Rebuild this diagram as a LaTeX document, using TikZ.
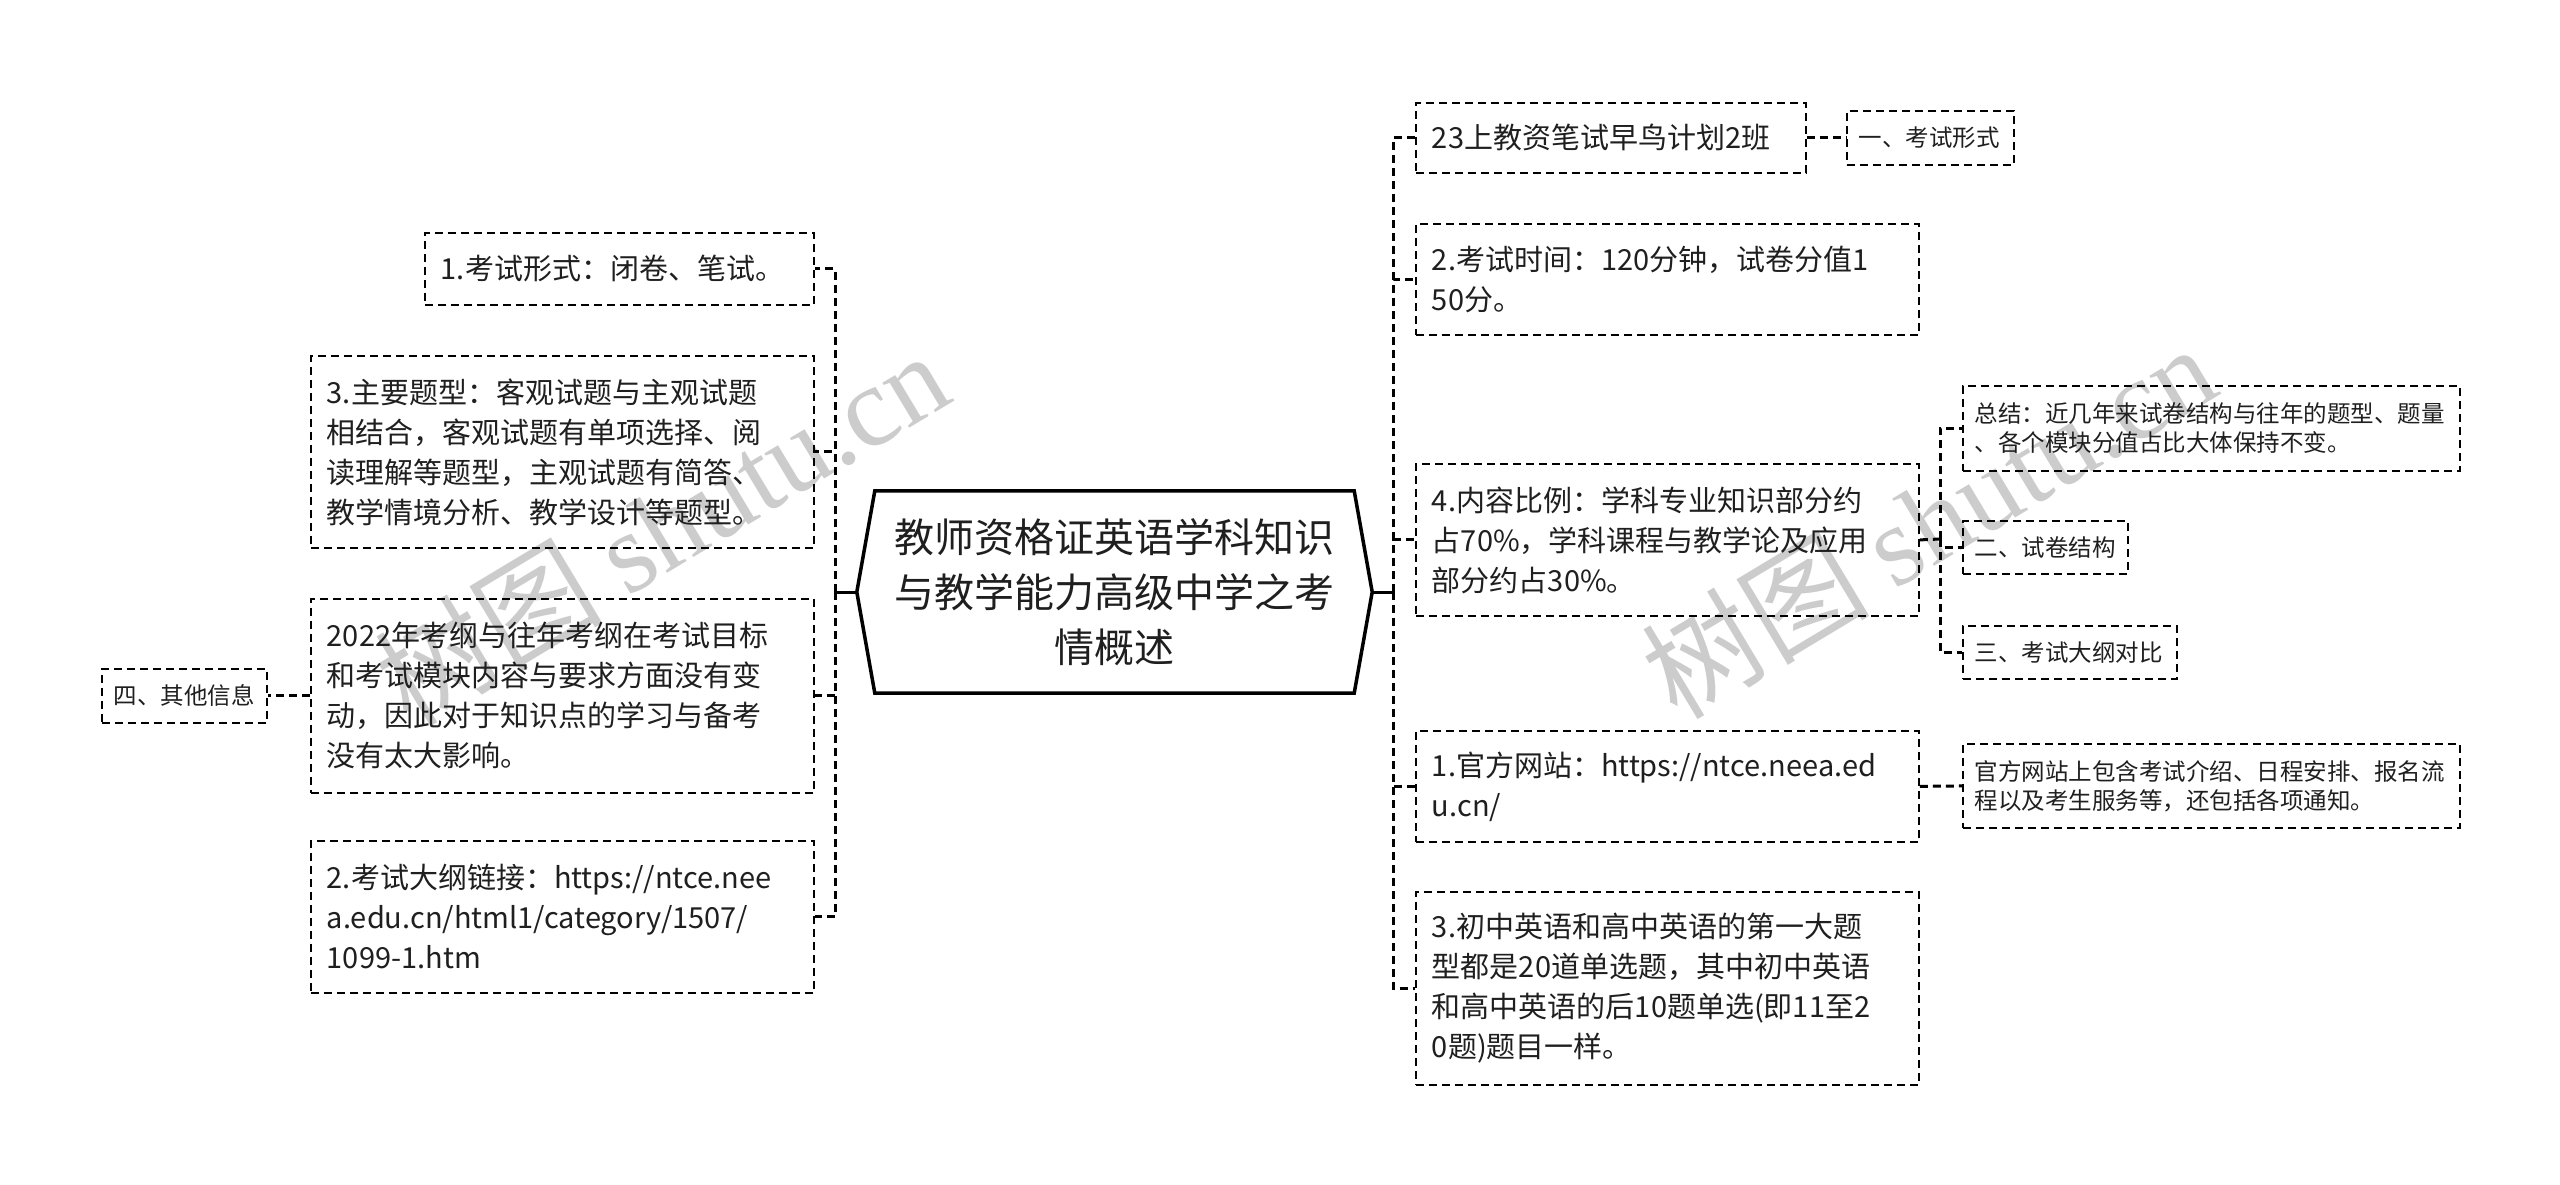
\documentclass[tikz,border=0pt]{standalone}
\usepackage{fontspec}
\setmainfont{Noto Sans CJK SC}
\newfontfamily\wmlatin{Liberation Serif}
\usetikzlibrary{calc}
\tikzset{
  boxbase/.style={draw=black, line width=1.8pt, dash pattern=on 8pt off 5pt, anchor=north west, inner ysep=0pt, align=left, text=black!88},
  bigbox/.style={boxbase, inner xsep=16pt, text width=471pt, font=\fontsize{29}{40}\selectfont},
  smallbox/.style={boxbase, inner xsep=12pt, font=\fontsize{23.5}{29}\selectfont},
  conn/.style={draw=black, line width=3pt, dash pattern=on 8pt off 5pt},
  solidconn/.style={draw=black, line width=3pt},
  wm/.style={text=black!20, font=\fontsize{114}{114}\selectfont, inner sep=0pt},
}
\begin{document}
\begin{tikzpicture}[x=1pt,y=-1pt]
\useasboundingbox (0,0) rectangle (2560,1185);
\fill[white] (0,0) rectangle (2560,1185);

% watermarks
\node[wm, rotate=31] (wm1) at (661,527) {树图 {\wmlatin shutu.cn}};
\node[wm, rotate=31] (wm2) at (1928,520) {树图 {\wmlatin shutu.cn}};

% root
\node[minimum width=479pt, minimum height=202pt, inner sep=0pt, align=center, text=black!88, font=\fontsize{40}{55}\selectfont] (root) at (1114.5,592) {教师资格证英语学科知识\\与教学能力高级中学之考\\情概述};
\coordinate (hexL) at ($(root.west)+(-18,0)$);
\coordinate (hexR) at ($(root.east)+(18,0)$);
\draw[line width=3.5pt, line join=miter] (root.north west) -- (root.north east) -- (hexR) -- (root.south east) -- (root.south west) -- (hexL) -- cycle;

% left side
\node[bigbox, text width=357pt, minimum height=72pt] (L1) at (424,232) {1.考试形式：闭卷、笔试。};
\node[bigbox, minimum height=192pt] (L2) at (310,355) {3.主要题型：客观试题与主观试题\\相结合，客观试题有单项选择、阅\\读理解等题型，主观试题有简答、\\教学情境分析、教学设计等题型。};
\node[bigbox, minimum height=194pt] (L3) at (310,598) {2022年考纲与往年考纲在考试目标\\和考试模块内容与要求方面没有变\\动，因此对于知识点的学习与备考\\没有太大影响。};
\node[bigbox, minimum height=152pt] (L4) at (310,840) {2.考试大纲链接：https://ntce.nee\\a.edu.cn/html1/category/1507/\\1099-1.htm};
\node[smallbox, text width=141pt, minimum height=54pt] (Lc) at (101,668) {四、其他信息};

% right side
\node[bigbox, text width=358pt, minimum height=70pt] (R1) at (1415,102) {23上教资笔试早鸟计划2班};
\node[smallbox, text width=143pt, minimum height=54pt] (R1c) at (1846,110) {一、考试形式};
\node[bigbox, minimum height=111pt] (R2) at (1415,223) {2.考试时间：120分钟，试卷分值1\\50分。};
\node[bigbox, minimum height=152pt] (R3) at (1415,463) {4.内容比例：学科专业知识部分约\\占70\%，学科课程与教学论及应用\\部分约占30\%。};
\node[smallbox, text width=473pt, minimum height=85pt] (S1) at (1962,385) {总结：近几年来试卷结构与往年的题型、题量\\、各个模块分值占比大体保持不变。};
\node[smallbox, text width=141pt, minimum height=53pt] (S2) at (1962,520) {二、试卷结构};
\node[smallbox, text width=190pt, minimum height=53pt] (S3) at (1962,625) {三、考试大纲对比};
\node[bigbox, minimum height=111pt] (R4) at (1415,730) {1.官方网站：https://ntce.neea.ed\\u.cn/};
\node[smallbox, text width=473pt, minimum height=84pt] (R4c) at (1962,743) {官方网站上包含考试介绍、日程安排、报名流\\程以及考生服务等，还包括各项通知。};
\node[bigbox, minimum height=193pt] (R5) at (1415,891) {3.初中英语和高中英语的第一大题\\型都是20道单选题，其中初中英语\\和高中英语的后10题单选(即11至2\\0题)题目一样。};

% connectors
\coordinate (lt) at (835,592);
\coordinate (rt) at (1393,592);
\coordinate (st) at (1940,539);
\draw[solidconn] (hexL) -- (lt);
\draw[solidconn] (hexR) -- (rt);
\foreach \n in {L1,L2,L3,L4} \draw[conn] (lt) |- (\n.east);
\foreach \n in {R1,R2,R3,R4,R5} \draw[conn] (rt) |- (\n.west);
\draw[conn] (L3.west) -- (Lc.east);
\draw[conn] (R1.east) -- (R1c.west);
\draw[conn] (R4.east) -- (R4c.west);
\draw[conn] (R3.east) -- (st);
\foreach \n in {S1,S2,S3} \draw[conn] (st) |- (\n.west);
\end{tikzpicture}
\end{document}
